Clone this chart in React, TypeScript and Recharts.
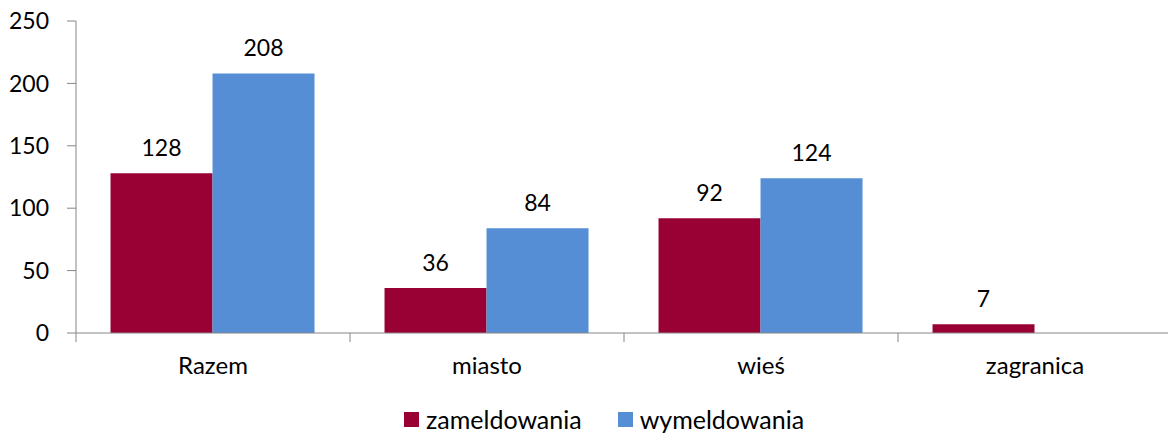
import { BarChart, Bar, XAxis, YAxis, LabelList } from 'recharts'

const categories = ['Razem', 'miasto', 'wieś', 'zagranica']
const zameldowania = [128, 36, 92, 7]
const wymeldowania = [208, 84, 124, null]
const yTicks = [0, 50, 100, 150, 200, 250]

const RED = '#990033'
const BLUE = '#558ED5'
const AXIS = '#868686'
const FONT = 'Lato, "Noto Sans", sans-serif'

const chartData = categories.map((name, i) => ({
  name,
  zameldowania: zameldowania[i],
  wymeldowania: wymeldowania[i],
}))

// tick mark sits on the category boundary, label in the middle
function CategoryTick(props: any) {
  const { x, y, payload } = props
  const half = 137
  return (
    <g>
      <line x1={x - half} x2={x - half} y1={y - 23} y2={y - 14} stroke={AXIS} strokeWidth={1} />
      <text x={x} y={y} dy="0.75em" textAnchor="middle" fill="#000" fontSize={24}>
        {payload.value}
      </text>
    </g>
  )
}

export default function App() {
  return (
    <div style={{ position: 'absolute', left: 0, top: 0, width: 1168, height: 435, overflow: 'hidden', fontFamily: FONT, background: '#fff' }}>
      <BarChart
        width={1172}
        height={435}
        data={chartData}
        margin={{ top: 21, right: 0, bottom: 62, left: 0 }}
        barCategoryGap="12.6%"
        barGap={0}
      >
        <YAxis
          width={76}
          domain={[0, 250]}
          ticks={yTicks}
          interval={0}
          tickSize={9}
          tickMargin={18}
          axisLine={{ stroke: AXIS }}
          tickLine={{ stroke: AXIS }}
          tick={{ fill: '#000', fontSize: 23 }}
        />
        <XAxis
          dataKey="name"
          height={40}
          interval={0}
          tickSize={9}
          tickMargin={14}
          tickLine={false}
          axisLine={{ stroke: AXIS }}
          tick={<CategoryTick />}
        />
        <Bar dataKey="zameldowania" fill={RED} isAnimationActive={false}>
          <LabelList dataKey="zameldowania" position="top" offset={17} fill="#000" fontSize={23} />
        </Bar>
        <Bar dataKey="wymeldowania" fill={BLUE} isAnimationActive={false}>
          <LabelList dataKey="wymeldowania" position="top" offset={17} fill="#000" fontSize={23} />
        </Bar>
      </BarChart>
      {/* legenda */}
      <div style={{ position: 'absolute', left: 404, top: 405, display: 'flex', alignItems: 'center', fontSize: 25, color: '#000', lineHeight: '28px' }}>
        <div style={{ width: 15, height: 15, background: RED, marginRight: 7 }} />
        <span>zameldowania</span>
        <div style={{ width: 15, height: 15, background: BLUE, marginLeft: 36, marginRight: 7 }} />
        <span>wymeldowania</span>
      </div>
    </div>
  )
}
